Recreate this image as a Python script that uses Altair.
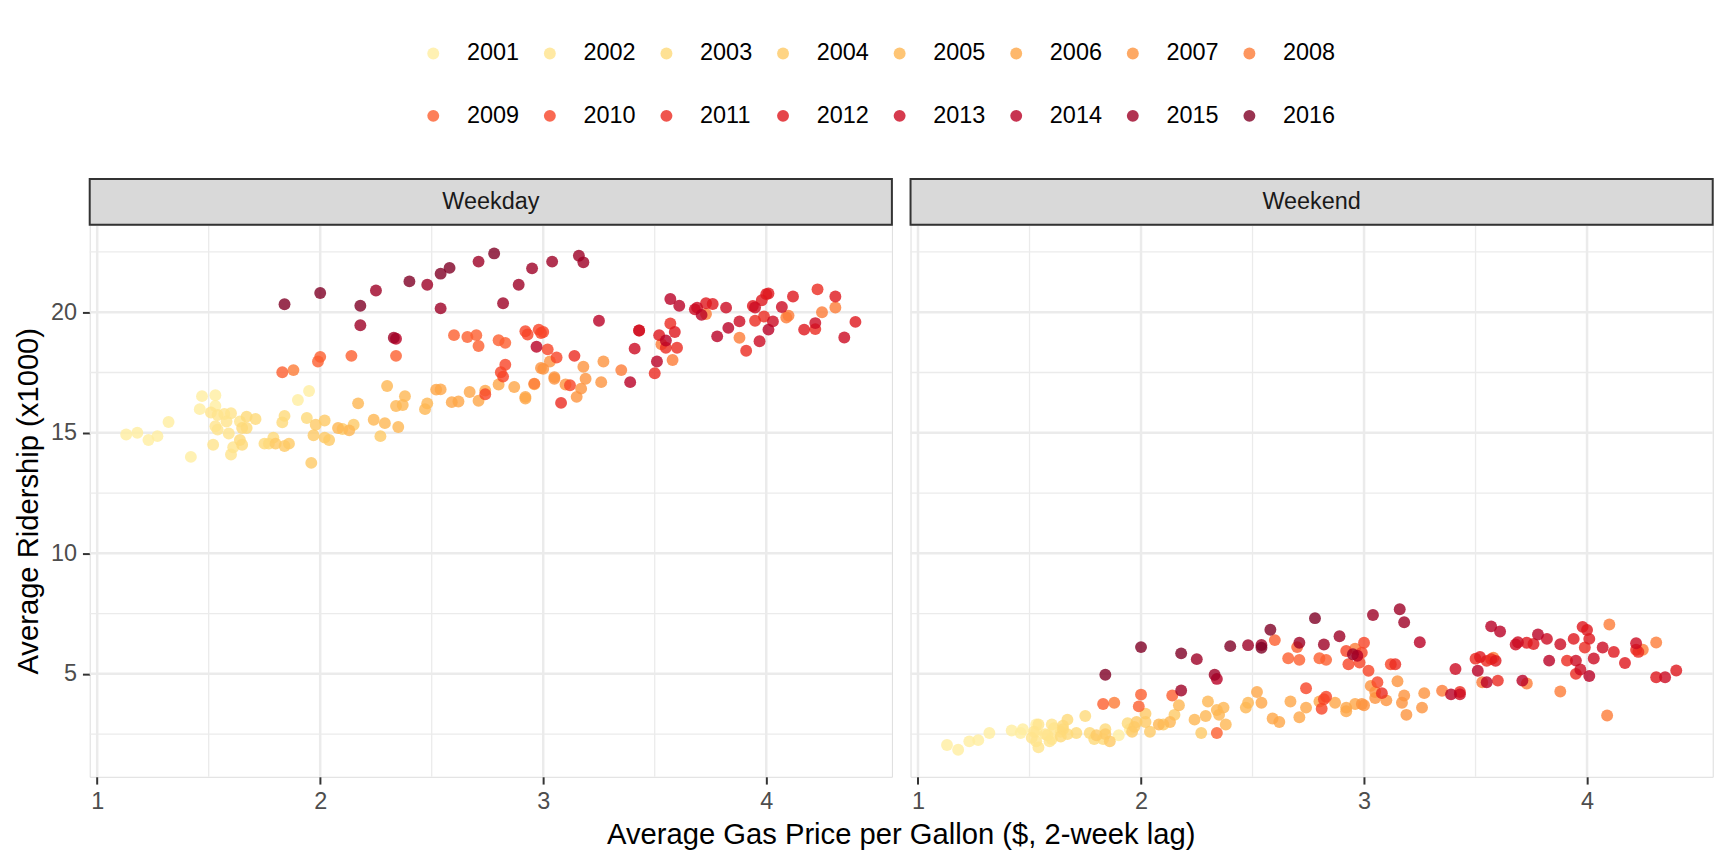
import altair as alt
import pandas as pd

YEARS = [str(y) for y in range(2001, 2017)]
PALETTE = ["#FFEDA0", "#FFE48C", "#FEDA79", "#FEC965", "#FEB752", "#FEA647",
           "#FD943F", "#FD7C37", "#FC5F2F", "#F74427", "#EB2B21", "#DE161D",
           "#CC0A22", "#B90026", "#9D0026", "#800026"]

# Average gas price per gallon ($, 2-week lag), grouped by year
GAS = [
    1.13, 1.18, 1.27, 1.32, 1.47, 1.53, 1.46, 1.53, 1.23, 1.42, 1.90, 1.95,   # 2001
    1.51, 1.54, 1.57, 1.60, 1.58, 1.53, 1.54, 1.59, 1.52, 1.60, 1.61, 1.64,   # 2002
    1.65, 1.67, 1.71, 1.67, 1.64, 1.65, 1.75, 1.77, 1.79, 1.83, 1.84, 1.94,   # 2003
    1.84, 1.86, 1.96, 1.97, 1.98, 2.02, 2.02, 2.04, 2.10, 2.15, 1.80, 2.27,   # 2004
    2.17, 2.24, 2.29, 2.35, 2.34, 2.37, 2.47, 2.48, 2.30, 2.38, 2.08, 2.13,   # 2005
    2.52, 2.54, 2.59, 2.67, 2.71, 2.92, 2.92, 2.96, 2.87, 2.62, 2.74, 2.80,   # 2006
    2.99, 3.03, 3.05, 3.00, 3.18, 3.19, 3.17, 3.15, 3.27, 3.26, 3.10, 3.05,   # 2007
    3.53, 3.58, 3.73, 3.88, 4.09, 4.10, 4.25, 4.31, 3.35, 2.96, 1.88,         # 2008
    1.83, 1.99, 2.00, 2.14, 2.34, 2.60, 2.66, 2.70, 2.71, 2.80, 2.83,         # 2009
    2.74, 2.81, 2.82, 2.83, 2.92, 2.93, 2.98, 2.99, 3.00, 3.12, 3.02, 3.06,   # 2010
    3.08, 3.14, 3.57, 3.60, 3.55, 3.91, 3.95, 3.99, 4.23, 3.50, 3.43, 4.22,   # 2011
    3.59, 3.73, 3.76, 3.94, 3.98, 4.00, 4.01, 4.12, 4.31, 4.40, 4.17, 3.52,   # 2012
    3.41, 3.43, 3.68, 3.69, 3.82, 3.88, 3.95, 3.97, 4.07, 4.35, 4.03, 4.22,   # 2013
    3.25, 3.39, 3.51, 3.55, 3.57, 3.61, 3.71, 3.78, 3.83, 4.01, 2.97, 2.34,   # 2014
    2.18, 2.33, 2.54, 2.82, 2.89, 2.95, 3.04, 3.16, 3.18, 2.48, 2.71, 2.25,   # 2015
    1.84, 2.00, 2.18, 2.40, 2.54, 2.58, 2.78,                                 # 2016
]

# Average weekday ridership (x1000)
WEEKDAY = [
    14.93, 15.00, 14.86, 15.45, 16.52, 16.56, 15.98, 16.11, 14.70, 14.00, 16.36, 16.73,
    15.84, 15.74, 15.78, 15.81, 15.47, 15.27, 15.13, 14.97, 14.50, 14.10, 14.40, 15.47,
    15.20, 15.67, 15.57, 15.20, 14.70, 14.50, 14.55, 14.55, 14.80, 15.43, 15.70, 15.61,
    14.45, 14.55, 13.75, 14.90, 15.33, 15.51, 14.80, 14.70, 15.16, 15.33, 14.55, 14.86,
    16.22, 15.54, 15.40, 15.24, 16.11, 16.15, 15.98, 16.22, 16.94, 16.52, 15.20, 15.10,
    16.79, 16.80, 16.27, 16.69, 16.33, 16.42, 16.49, 17.01, 16.90, 16.30, 16.75, 17.00,
    17.69, 17.96, 17.31, 17.65, 17.74, 17.24, 16.83, 16.49, 17.96, 17.10, 17.00, 17.24,
    18.67, 18.02, 19.93, 18.94, 19.78, 19.86, 20.00, 20.20, 17.60, 17.04, 17.60,
    17.51, 17.96, 18.15, 18.19, 18.19, 19.05, 18.97, 19.05, 18.60, 18.84, 18.73,
    16.60, 17.51, 17.33, 17.82, 19.21, 19.08, 19.28, 19.14, 19.18, 16.97, 18.46, 18.12,
    16.24, 18.19, 19.53, 18.53, 18.53, 18.40, 19.65, 19.82, 20.95, 17.47, 19.24, 19.30,
    19.18, 20.37, 20.34, 20.26, 20.50, 20.75, 20.78, 20.65, 20.65, 19.60, 19.28, 19.05,
    18.49, 19.24, 20.12, 20.19, 20.19, 19.62, 20.20, 18.80, 20.22, 18.95, 19.62, 19.55,
    19.65, 17.10, 17.96, 18.83, 20.55, 20.27, 19.89, 19.00, 19.35, 19.28, 18.57, 18.90,
    19.46, 18.94, 20.16, 20.37, 21.14, 21.82, 22.10, 22.34, 22.07, 21.14, 22.10, 20.90,
    20.33, 20.80, 20.27, 21.28, 21.60, 21.84, 22.44,
]

# Average weekend ridership (x1000)
WEEKEND = [
    2.05, 1.85, 2.25, 2.55, 2.70, 2.90, 2.55, 2.60, 2.20, 2.65, 2.45, 2.70,
    2.35, 2.90, 2.50, 2.90, 2.45, 2.20, 1.95, 2.20, 2.60, 2.30, 2.75, 2.60,
    2.70, 3.10, 2.55, 2.50, 2.40, 2.85, 3.25, 2.55, 2.30, 2.30, 2.70, 2.95,
    2.50, 2.20, 2.60, 2.80, 3.00, 3.35, 3.00, 2.60, 2.90, 3.30, 2.45, 2.55,
    3.70, 3.10, 3.25, 3.30, 3.50, 3.60, 3.60, 3.80, 3.85, 2.90, 2.90, 3.00,
    4.25, 3.80, 3.15, 3.85, 3.20, 3.60, 3.45, 3.75, 3.80, 3.00, 3.60, 3.85,
    3.75, 4.50, 4.00, 3.70, 4.10, 3.30, 3.80, 4.69, 4.20, 3.60, 3.90, 4.25,
    4.65, 5.67, 4.60, 4.27, 3.27, 7.05, 6.00, 6.30, 4.30, 6.04, 3.80,
    3.75, 3.65, 4.14, 4.10, 2.55, 6.40, 5.65, 6.11, 5.58, 5.65, 5.58,
    4.40, 3.55, 3.95, 4.05, 5.95, 5.40, 5.47, 5.88, 6.29, 5.40, 5.13, 4.65,
    4.20, 5.40, 5.61, 4.72, 5.54, 5.55, 5.00, 6.09, 5.91, 5.63, 4.25, 6.00,
    5.54, 6.29, 6.24, 6.45, 6.95, 6.82, 6.45, 5.91, 4.86, 5.14, 5.45, 5.70,
    5.20, 4.15, 6.22, 6.31, 6.45, 6.23, 5.55, 5.18, 6.09, 4.86, 5.64, 6.27,
    6.31, 4.15, 5.13, 4.65, 6.97, 6.76, 4.72, 6.63, 5.55, 4.91, 5.75, 4.79,
    4.31, 4.96, 6.20, 6.22, 6.56, 5.81, 7.44, 7.68, 7.14, 6.19, 6.29, 5.61,
    4.96, 6.11, 5.85, 6.15, 6.08, 6.83, 7.31,
]

POINTS_PER_YEAR = [12, 12, 12, 12, 12, 12, 12, 11, 11, 12, 12, 12, 12, 12, 12, 7]
YEAR = [y for y, n in zip(YEARS, POINTS_PER_YEAR) for _ in range(n)]

X_MAJOR = [1, 2, 3, 4]
X_MINOR = [1.5, 2.5, 3.5]
Y_MAJOR = [5, 10, 15, 20]
Y_MINOR = [2.5, 7.5, 12.5, 17.5, 22.5]
X_DOMAIN = [0.9665, 4.5635]
Y_DOMAIN = [0.73, 23.63]

rows = []
for g, wd, we, yr in zip(GAS, WEEKDAY, WEEKEND, YEAR):
    rows.append({"x": g, "y": wd, "year": yr, "panel": "Weekday"})
    rows.append({"x": g, "y": we, "year": yr, "panel": "Weekend"})
df = pd.DataFrame(rows)

FONT = "Liberation Sans"
W, H, STRIP = 805, 554, 46
SMALL, BIG = 23.5, 29.3
PT_SIZE = 143

xs = alt.Scale(domain=X_DOMAIN, nice=False, zero=False)
ys = alt.Scale(domain=Y_DOMAIN, nice=False, zero=False)

legend = alt.Legend(
    orient="none", legendX=333, legendY=-184, direction="horizontal", columns=8,
    title=None, symbolType="circle", symbolSize=PT_SIZE, symbolOpacity=0.8,
    symbolStrokeWidth=0, labelFontSize=SMALL, labelFont=FONT, labelColor="black",
    labelOffset=22, columnPadding=19, rowPadding=38, padding=0,
)

XAXIS = alt.Axis(values=X_MAJOR, format="d", title=None, grid=False, domain=False,
                 ticks=True, tickSize=7.3, tickColor="#333333", tickWidth=2,
                 labelFontSize=SMALL, labelColor="#4D4D4D", labelPadding=5.9,
                 labelFont=FONT)
YAXIS = alt.Axis(values=Y_MAJOR, title="Average Ridership (x1000)", grid=False,
                 domain=False, ticks=True, tickSize=7.3, tickColor="#333333",
                 tickWidth=2, labelFontSize=SMALL, labelColor="#4D4D4D",
                 labelPadding=5.9, labelFont=FONT, titleFont=FONT,
                 titleFontSize=BIG, titleFontWeight="normal", titleColor="black",
                 titlePadding=7)


def make_panel(name, left):
    d = df[df.panel == name]
    yaxis = YAXIS if left else None

    def vrule(vals, w):
        return alt.Chart(pd.DataFrame({"x": vals})).mark_rule(
            color="#EBEBEB", strokeWidth=w).encode(
            x=alt.X("x:Q", scale=xs, axis=XAXIS))

    def hrule(vals, w):
        return alt.Chart(pd.DataFrame({"y": vals})).mark_rule(
            color="#EBEBEB", strokeWidth=w).encode(
            y=alt.Y("y:Q", scale=ys, axis=yaxis))

    pts = alt.Chart(d).mark_circle(size=PT_SIZE, opacity=0.8).encode(
        x=alt.X("x:Q", scale=xs, axis=XAXIS),
        y=alt.Y("y:Q", scale=ys, axis=yaxis),
        color=alt.Color("year:N", scale=alt.Scale(domain=YEARS, range=PALETTE),
                        legend=legend),
    )
    lab = pd.DataFrame({"label": [name]})
    strip_rect = alt.Chart(lab).mark_rect(
        fill="#D9D9D9", stroke="#333333", strokeWidth=2).encode(
        x=alt.value(0), x2=alt.value(W), y=alt.value(-STRIP), y2=alt.value(0))
    strip_text = alt.Chart(lab).mark_text(
        font=FONT, fontSize=SMALL, color="#1A1A1A", baseline="middle").encode(
        x=alt.value(W / 2), y=alt.value(-STRIP / 2), text="label:N")
    return alt.layer(vrule(X_MINOR, 1.3), vrule(X_MAJOR, 2.5),
                     hrule(Y_MINOR, 1.3), hrule(Y_MAJOR, 2.5),
                     pts, strip_rect, strip_text).properties(width=W, height=H)


chart = alt.hconcat(make_panel("Weekday", True), make_panel("Weekend", False),
                    spacing=14.7).resolve_scale(color="shared").properties(
    title=alt.TitleParams("Average Gas Price per Gallon ($, 2-week lag)", orient="bottom",
                          anchor="middle", fontSize=BIG, dx=37,
                          fontWeight="normal", font=FONT, color="black", offset=7),
    padding={"left": 6, "top": 32, "right": 5, "bottom": 5},
).configure_view(stroke="#333333", strokeWidth=2).configure(background="white")

chart.save("out.html", embed_options={"renderer": "svg", "actions": False})
